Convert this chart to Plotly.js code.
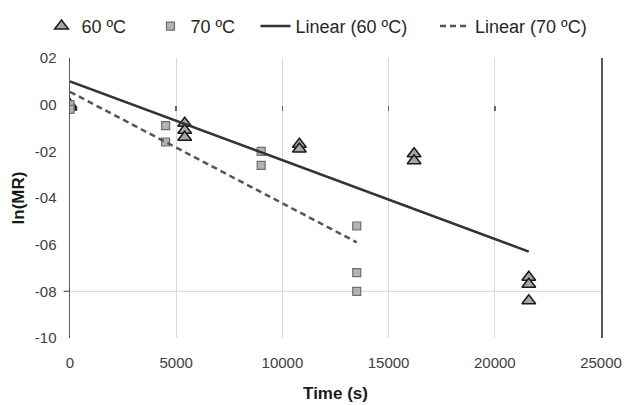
<!DOCTYPE html>
<html><head><meta charset="utf-8">
<script src="https://cdn.plot.ly/plotly-3.0.1.min.js"></script>
<style>body{margin:0;background:#fff}#c{width:626px;height:405px}</style>
</head><body><div id="c"></div>
<script>
// 60 ºC measurements
const t60 = [0, 0, 5400, 5400, 5400, 10800, 10800, 16200, 16200, 21600, 21600, 21600];
const y60 = [0.0, -0.01, -0.08, -0.11, -0.14, -0.17, -0.19, -0.21, -0.24, -0.74, -0.77, -0.84];
// 70 ºC measurements
const t70 = [0, 0, 4500, 4500, 9000, 9000, 13500, 13500, 13500];
const y70 = [0.0, -0.02, -0.09, -0.16, -0.20, -0.26, -0.52, -0.72, -0.80];
// linear trendlines (end points)
const fit60T = [0, 21600];
const fit60Y = [0.10, -0.63];
const fit70T = [0, 13500];
const fit70Y = [0.055, -0.59];
// axis ticks
const yTickVals = [0.2, 0.0, -0.2, -0.4, -0.6, -0.8, -1.0];
const yTickText = ["02", "00", "-02", "-04", "-06", "-08", "-10"];
const xTickVals = [0, 5000, 10000, 15000, 20000, 25000];
const xTickText = ["0", "5000", "10000", "15000", "20000", "25000"];
const zeroTickVals = [5000, 10000, 15000, 20000];
const gridY = -0.8;

const traces = [
  {x: t60, y: y60, type: 'scatter', mode: 'markers', name: '60 ºC', legend: 'legend',
   marker: {symbol: 'triangle-up', size: 12, color: '#a6a6a6', line: {color: '#1a1a1a', width: 1.5}}},
  {x: t70, y: y70, type: 'scatter', mode: 'markers', name: '70 ºC', legend: 'legend2',
   marker: {symbol: 'square', size: 8, color: '#b3b3b3', line: {color: '#6e6e6e', width: 1.2}}},
  {x: fit60T, y: fit60Y, type: 'scatter', mode: 'lines', name: 'Linear (60 ºC)', legend: 'legend3',
   line: {color: '#333333', width: 2.5}},
  {x: fit70T, y: fit70Y, type: 'scatter', mode: 'lines', name: 'Linear (70 ºC)', legend: 'legend4',
   line: {color: '#555555', width: 2.5, dash: '6px,4px'}},
  // carrier trace so the zero-line tick axis is drawn
  {x: fit60T, y: fit60Y, type: 'scatter', mode: 'markers', xaxis: 'x2', showlegend: false,
   hoverinfo: 'skip', marker: {opacity: 0, size: 1}}
];

function leg(px) {
  return {orientation: 'h', x: (px - 70) / 531, xanchor: 'left', y: 1.113, yanchor: 'middle',
          font: {size: 18, color: '#262626'}, bgcolor: 'rgba(0,0,0,0)'};
}

const layout = {
  width: 626, height: 405,
  margin: {l: 70, r: 25, t: 58, b: 67, autoexpand: false},
  paper_bgcolor: '#fff', plot_bgcolor: '#fff',
  font: {family: '"Liberation Sans", Arial, sans-serif', color: '#404040', size: 15},
  showlegend: true,
  legend: leg(41.5),
  legend2: leg(150.5),
  legend3: leg(255.5),
  legend4: leg(435),
  xaxis: {range: [0, 25000], tickvals: xTickVals, ticktext: xTickText,
          showgrid: true, gridcolor: '#d9d9d9', gridwidth: 1, zeroline: false,
          showline: false, ticks: '', ticklabelstandoff: 14, tickfont: {size: 15, color: '#404040'},
          title: {text: 'Time (s)', font: {size: 17, color: '#1a1a1a', weight: 'bold'}, standoff: 17}},
  xaxis2: {overlaying: 'x', anchor: 'free', position: 0.8333, range: [0, 25000],
           tickvals: zeroTickVals, showticklabels: false, ticks: 'outside',
           ticklen: 5, tickcolor: '#666', tickwidth: 1.5, showgrid: false, zeroline: false, showline: false},
  yaxis: {range: [-1.0, 0.2], tickvals: yTickVals, ticktext: yTickText,
          showgrid: false, zeroline: false, showline: true, mirror: true,
          linecolor: '#595959', linewidth: 1.5, ticks: '', ticklabelstandoff: 9,
          tickfont: {size: 15, color: '#404040'},
          title: {text: 'ln(MR)', font: {size: 17, color: '#1a1a1a', weight: 'bold'}, standoff: 6}},
  shapes: [
    {type: 'line', xref: 'paper', x0: 0, x1: 1, yref: 'y', y0: gridY, y1: gridY,
     line: {color: '#d4d4d4', width: 1}, layer: 'below'},
    {type: 'line', xref: 'paper', x0: -0.012, x1: 0, yref: 'y', y0: gridY, y1: gridY,
     line: {color: '#595959', width: 1.2}}
  ]
};

Plotly.newPlot('c', traces, layout, {displayModeBar: false, staticPlot: true});
</script>
</body></html>
